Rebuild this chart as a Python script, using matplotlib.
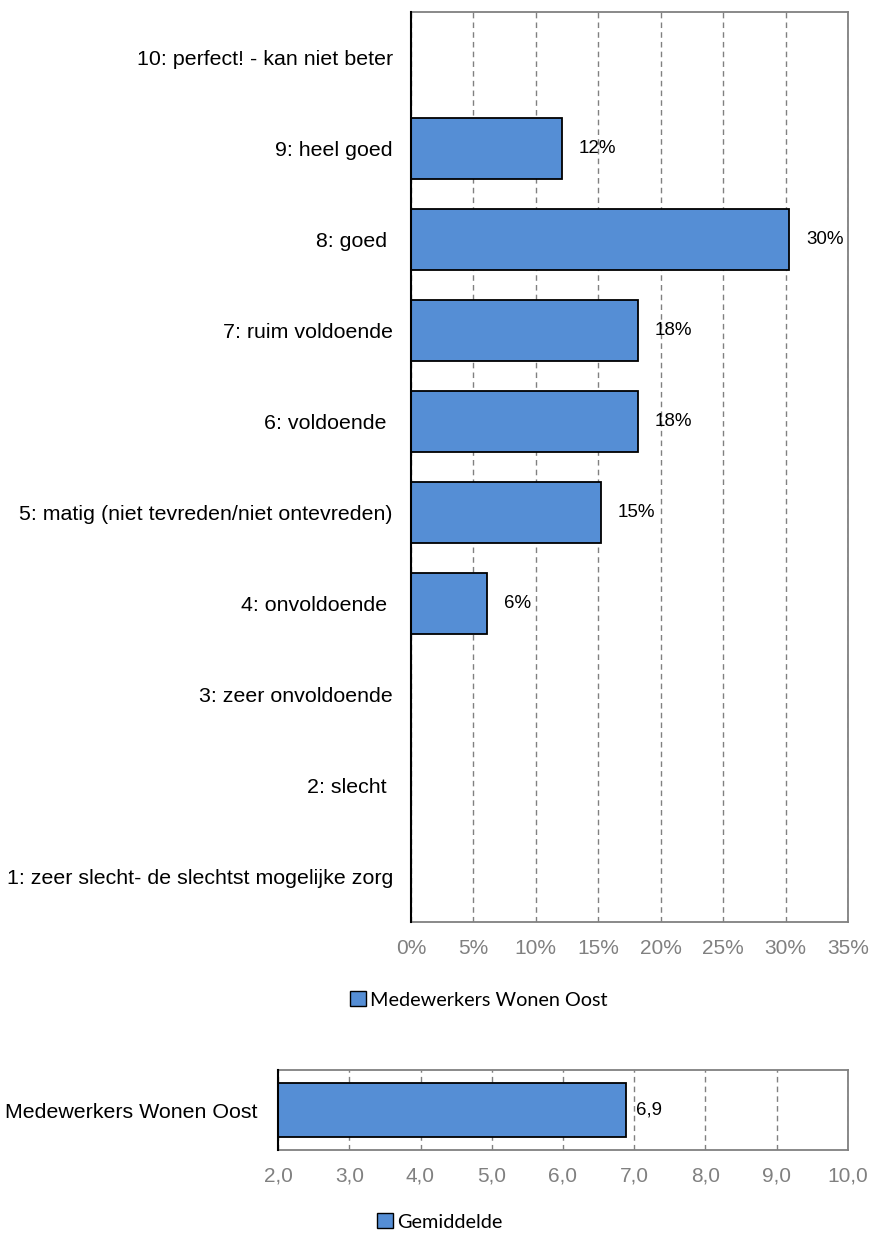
import matplotlib
matplotlib.use("Agg")
import matplotlib.pyplot as plt
from matplotlib.patches import Patch
import numpy as np

# rapportcijfer verdeling (percentages)
categories = ["1: zeer slecht- de slechtst mogelijke zorg", "2: slecht ", "3: zeer onvoldoende",
              "4: onvoldoende ", "5: matig (niet tevreden/niet ontevreden)", "6: voldoende ",
              "7: ruim voldoende", "8: goed ", "9: heel goed", "10: perfect! - kan niet beter"]
values = [0, 0, 0, 6.1, 15.2, 18.2, 18.2, 30.3, 12.1, 0]
pct_ticks = [0, 5, 10, 15, 20, 25, 30, 35]
series_name = "Medewerkers Wonen Oost"

# gemiddelde
mean_groups = ["Medewerkers Wonen Oost"]
mean_values = [6.88]
mean_ticks = [2, 3, 4, 5, 6, 7, 8, 9, 10]
mean_name = "Gemiddelde"

bar_color = "#558ED5"
grey = "#808080"
tick_font = "Liberation Sans"
legend_font = "Lato"
cat_size = 15.4
tick_size = 15
val_size = 13.5

fig = plt.figure(figsize=(8.7, 12.4), dpi=100)

# --- bovenste grafiek ---
ax = fig.add_axes([411/870, 1-922/1240, 437/870, 910/1240])
y = np.arange(len(categories))
bars = ax.barh(y, values, height=0.67, color=bar_color, edgecolor="black", linewidth=1.3, zorder=3)
for b, v in zip(bars, values):
    if v > 0:
        ax.text(b.get_width() + 1.35, b.get_y() + b.get_height()/2, "%d%%" % round(v),
                va="center", ha="left", fontsize=val_size, family=tick_font, zorder=4)
ax.set_ylim(-0.5, len(categories) - 0.5)
ax.set_xlim(0, 35)
ax.set_xticks(pct_ticks)
ax.set_xticklabels(["%d%%" % t for t in pct_ticks], family=tick_font, fontsize=tick_size, color=grey)
ax.set_yticks(y)
ax.set_yticklabels(categories, family=tick_font, fontsize=cat_size)
ax.tick_params(axis="both", length=0)
ax.tick_params(axis="y", pad=13)
ax.tick_params(axis="x", pad=12)
ax.grid(axis="x", color=grey, linestyle=(0, (4, 3)), linewidth=1, zorder=0)
for s in ["top", "right", "bottom"]:
    ax.spines[s].set_color(grey)
    ax.spines[s].set_linewidth(1.3)
ax.spines["left"].set_color("black")
ax.spines["left"].set_linewidth(1.5)
ax.spines["left"].set_zorder(5)

fig.legend(handles=[Patch(facecolor=bar_color, edgecolor="black", linewidth=1)], labels=[series_name],
           loc="center", bbox_to_anchor=(479/870, 1-1000/1240), frameon=False,
           prop={"family": legend_font, "size": 14.3}, handlelength=0.8, handleheight=0.8,
           handletextpad=0.2)

# --- onderste grafiek ---
ax2 = fig.add_axes([278/870, 1-1150/1240, 570/870, 80/1240])
y2 = np.arange(len(mean_groups))
bars2 = ax2.barh(y2, mean_values, left=0, height=0.675, color=bar_color, edgecolor="black",
                 linewidth=1.3, zorder=3)
for b, v in zip(bars2, mean_values):
    ax2.text(b.get_width() + 0.14, b.get_y() + b.get_height()/2, ("%.1f" % v).replace(".", ","),
             va="center", ha="left", fontsize=val_size, family=tick_font, zorder=4)
ax2.set_xlim(2, 10)
ax2.set_ylim(-0.5, 0.5)
ax2.set_xticks(mean_ticks)
ax2.set_xticklabels([("%.1f" % t).replace(".", ",") for t in mean_ticks], family=tick_font,
                    fontsize=tick_size, color=grey)
ax2.set_yticks(y2)
ax2.set_yticklabels(mean_groups, family=tick_font, fontsize=cat_size)
ax2.tick_params(axis="both", length=0)
ax2.tick_params(axis="y", pad=15)
ax2.tick_params(axis="x", pad=12)
ax2.grid(axis="x", color=grey, linestyle=(0, (4, 3)), linewidth=1, zorder=0)
for s in ["top", "right", "bottom"]:
    ax2.spines[s].set_color(grey)
    ax2.spines[s].set_linewidth(1.3)
ax2.spines["left"].set_color("black")
ax2.spines["left"].set_linewidth(1.5)
ax2.spines["left"].set_zorder(5)

fig.legend(handles=[Patch(facecolor=bar_color, edgecolor="black", linewidth=1)], labels=[mean_name],
           loc="center", bbox_to_anchor=(440/870, 1-1222/1240), frameon=False,
           prop={"family": legend_font, "size": 14.3}, handlelength=0.8, handleheight=0.8,
           handletextpad=0.2)

fig.savefig("out.png", dpi=100)
